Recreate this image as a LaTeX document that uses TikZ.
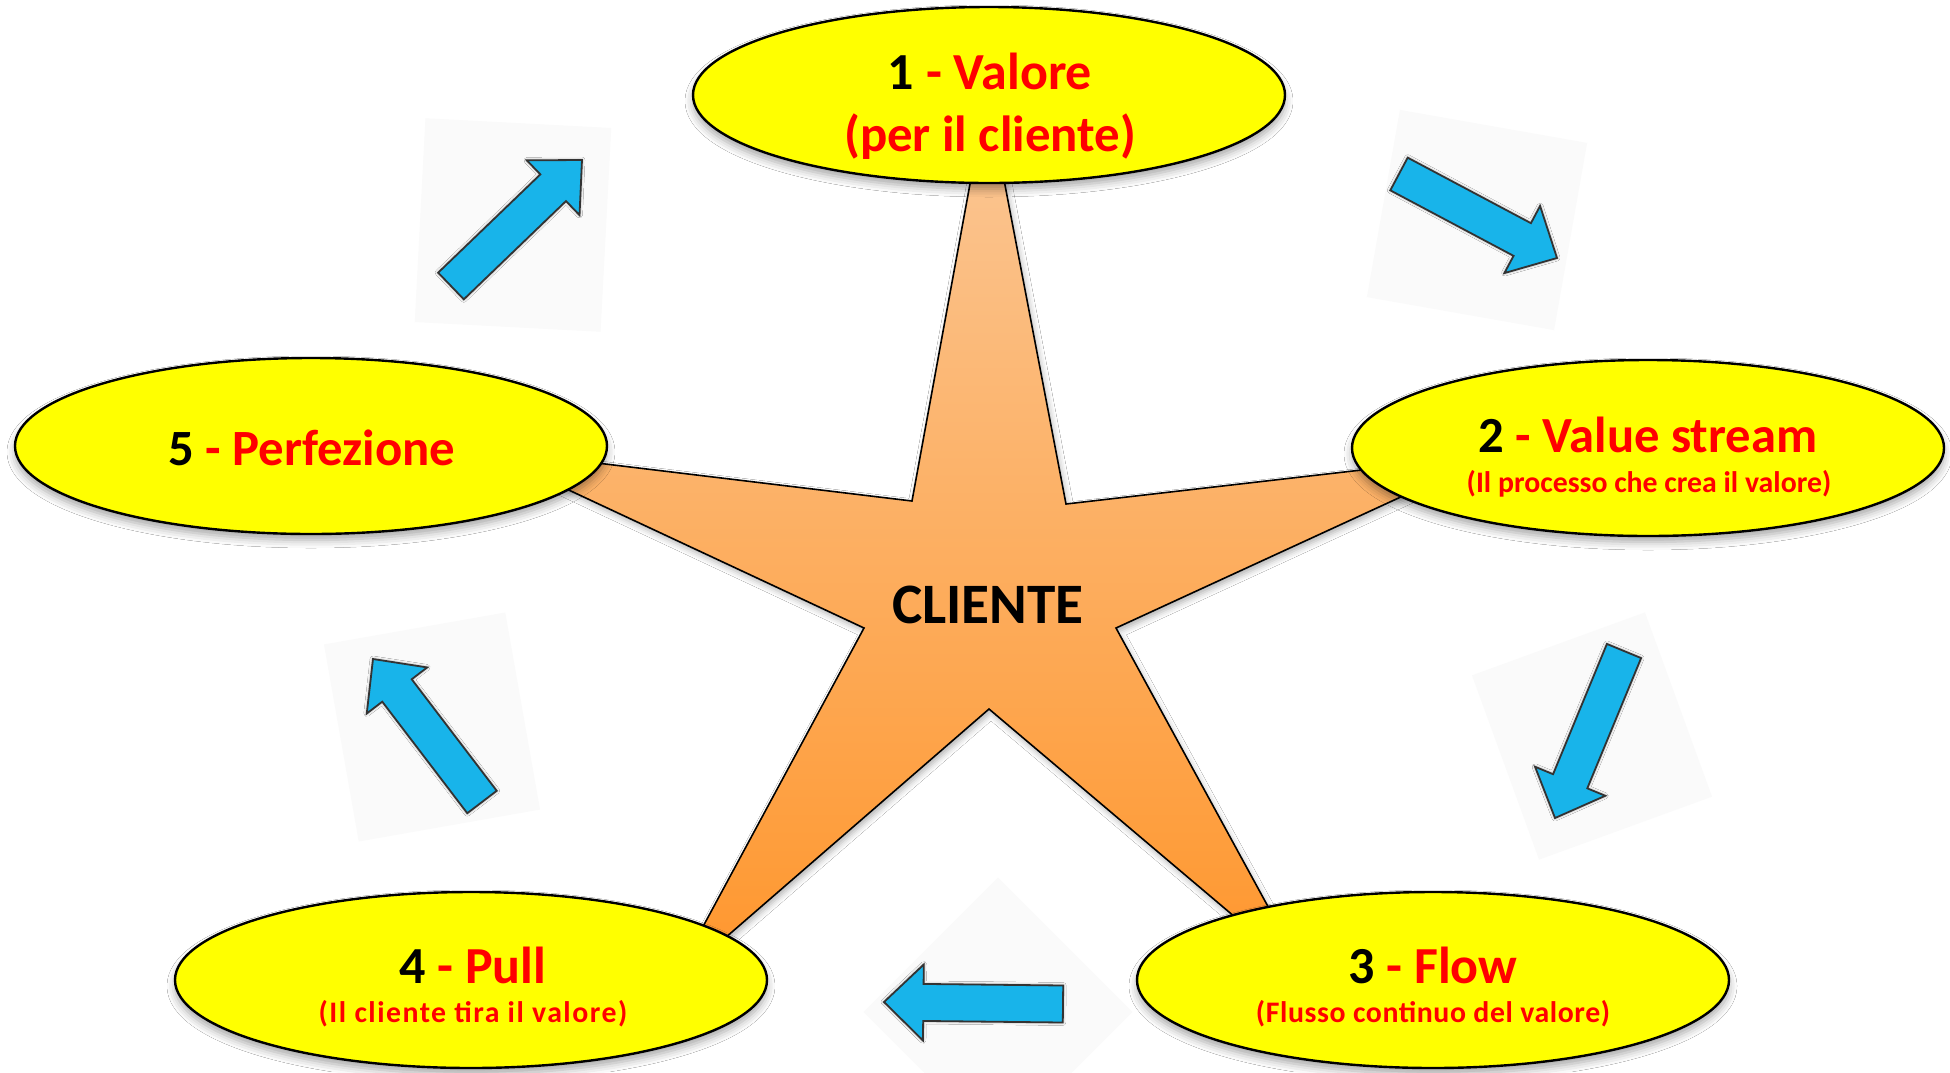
\documentclass[tikz,border=0pt]{standalone}
\usepackage{fontspec}
\setmainfont{Carlito}
\usetikzlibrary{calc,shapes.geometric,shadows.blur}

\definecolor{ovalyellow}{RGB}{255,255,0}
\definecolor{txtred}{RGB}{255,0,0}
\definecolor{arrowblue}{RGB}{24,180,234}
\definecolor{startop}{RGB}{250,200,152}
\definecolor{starbot}{RGB}{255,150,44}
\definecolor{panelgray}{RGB}{250,250,250}

\tikzset{
  oval/.style={ellipse, draw=black, line width=1.2pt, fill=ovalyellow,
    minimum width=296pt, minimum height=88pt, inner sep=0pt,
    blur shadow={shadow xshift=0pt, shadow yshift=-3pt,
      shadow blur radius=4pt, shadow opacity=35}},
  headline/.style={anchor=base, inner sep=0pt,
    font=\bfseries\fontsize{26pt}{30pt}\selectfont},
  subline/.style={anchor=base, inner sep=0pt, text=txtred,
    font=\bfseries\fontsize{14.9pt}{17pt}\selectfont},
  centerlabel/.style={anchor=base, inner sep=0pt,
    font=\bfseries\fontsize{28.6pt}{32pt}\selectfont},
  blockarrow/.style={fill=arrowblue, draw=black!80, line width=0.9pt,
    line join=miter,
    blur shadow={shadow xshift=0pt, shadow yshift=0pt,
      shadow blur radius=1.5pt, shadow opacity=40}},
  panel/.style={fill=panelgray, draw=none, inner sep=0pt},
  starshape/.style={draw=black, line width=0.8pt, line join=miter,
    top color=startop, bottom color=starbot,
    blur shadow={shadow xshift=1pt, shadow yshift=-2pt,
      shadow blur radius=3pt, shadow opacity=30}},
}

% block arrow from tail midpoint #2 to tip #3
\newcommand\blockarrow[3]{%
  \coordinate (#1-t) at #2;
  \coordinate (#1-h) at #3;
  \path[blockarrow]
    ($(#1-t)!9.25pt!90:(#1-h)$)
    -- ($(#1-t)!0.78!(#1-h)!9.25pt!90:(#1-h)$)
    -- ($(#1-t)!0.78!(#1-h)!19pt!90:(#1-h)$)
    -- (#1-h)
    -- ($(#1-t)!0.78!(#1-h)!19pt!-90:(#1-h)$)
    -- ($(#1-t)!0.78!(#1-h)!9.25pt!-90:(#1-h)$)
    -- ($(#1-t)!9.25pt!-90:(#1-h)$)
    -- cycle;
}

\begin{document}
\begin{tikzpicture}[x=0.5pt, y=-0.5pt]
  \useasboundingbox (0,0) rectangle (1950,1072);
  \fill[white] (0,0) rectangle (1950,1072);

  % faint panels behind the arrows
  \node[panel, rotate=-3, minimum width=93pt, minimum height=102pt] (pA) at (513,225) {};
  \node[panel, rotate=-10, minimum width=95pt, minimum height=95pt] (pB) at (1477,220) {};
  \node[panel, rotate=20, minimum width=92pt, minimum height=98pt] (pC) at (1592,736) {};
  \node[panel, rotate=45, minimum width=95pt, minimum height=95pt] (pD) at (998,1012) {};
  \node[panel, rotate=10, minimum width=92pt, minimum height=100pt] (pE) at (432,727) {};

  % central star
  \path[starshape]
    (987,91) -- (1066,504) -- (1492,455) -- (1116,628) -- (1307,978)
    -- (989,709) -- (672,984) -- (864,628) -- (481,449) -- (912,501) -- cycle;
  \node[centerlabel] (cliente) at (988,623) {CLIENTE};

  % arrows between the ovals
  \blockarrow{aA}{(451,286)}{(582,160)}
  \blockarrow{aB}{(1399,174)}{(1557,258)}
  \blockarrow{aC}{(1624,651)}{(1555,818)}
  \blockarrow{aD}{(1063,1004)}{(884,1002)}
  \blockarrow{aE}{(482,802)}{(373,659)}

  % ovals
  \node[oval] (o1) at (989,95) {};
  \node[oval] (o2) at (1648,448) {};
  \node[oval] (o3) at (1433,980) {};
  \node[oval] (o4) at (471,980) {};
  \node[oval] (o5) at (311,446) {};

  % labels
  \node[headline] (t1) at (990,89) {1 \textcolor{txtred}{- Valore}};
  \node[headline, text=txtred, font=\bfseries\fontsize{25.4pt}{30pt}\selectfont]
    (t1b) at (990,151) {(per il cliente)};

  \node[headline, font=\bfseries\fontsize{25.3pt}{30pt}\selectfont]
    (t2) at (1648,452) {2 \textcolor{txtred}{- Value stream}};
  \node[subline] (t2b) at (1649,492) {(Il processo che crea il valore)};

  \node[headline] (t3) at (1433,983) {3 \textcolor{txtred}{- Flow}};
  \node[subline, font=\bfseries\fontsize{14.9pt}{17pt}\selectfont\addfontfeature{LetterSpace=2}]
    (t3b) at (1433,1022) {(Flusso continuo del valore)};

  \node[headline] (t4) at (473,983) {4 \textcolor{txtred}{- Pull}};
  \node[subline, font=\bfseries\fontsize{14.9pt}{17pt}\selectfont\addfontfeature{LetterSpace=5}]
    (t4b) at (473,1022) {(Il cliente tira il valore)};

  \node[headline, font=\bfseries\fontsize{25.4pt}{30pt}\selectfont]
    (t5) at (312,465) {5 \textcolor{txtred}{- Perfezione}};
\end{tikzpicture}
\end{document}
